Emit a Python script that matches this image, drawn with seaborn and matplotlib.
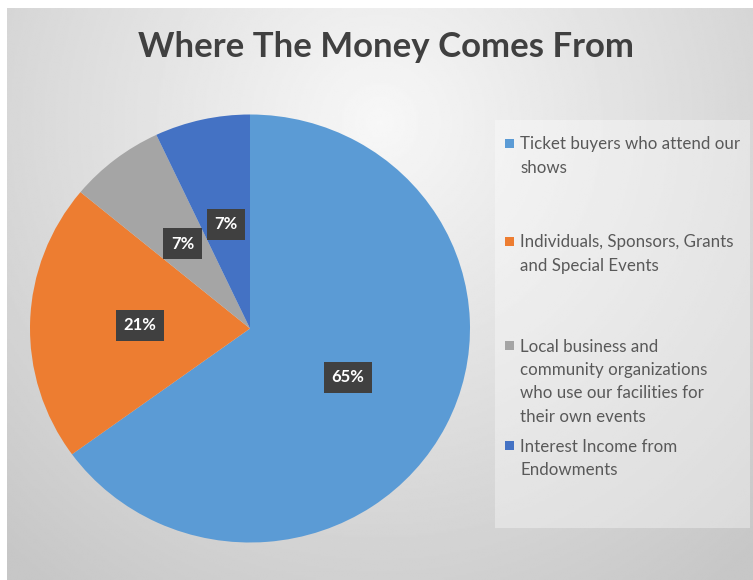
import matplotlib.pyplot as plt
import numpy as np
import seaborn as sns
from matplotlib.patches import Rectangle

# chart data
title = 'Where The Money Comes From'
categories = ['Ticket buyers who attend our\nshows',
              'Individuals, Sponsors, Grants\nand Special Events',
              'Local business and\ncommunity organizations\nwho use our facilities for\ntheir own events',
              'Interest Income from\nEndowments']
shares = [65, 21, 7, 7]
colors = ['#5B9BD5', '#ED7D31', '#A5A5A5', '#4472C4']

sns.set_style('white')
plt.rcParams['font.family'] = ['Lato', 'DejaVu Sans']

W, H = 753, 580
fig = plt.figure(figsize=(W / 100, H / 100), dpi=100)
fig.patch.set_facecolor('white')

# soft grey gradient background
bg = fig.add_axes([7 / W, 0, 1 - 7 / W, 1 - 8 / H])
yy, xx = np.mgrid[0:1:300j, 0:1:400j]
d = np.sqrt(((xx - 0.5) / 0.75) ** 2 + ((yy - 0.2) / 1.0) ** 2)
bg.imshow(0.97 - 0.19 * np.clip(d, 0, 1), cmap='gray', vmin=0, vmax=1,
          aspect='auto', interpolation='bilinear')
bg.axis('off')

# legend panel
fig.patches.append(Rectangle((495 / W, 52 / H), 255 / W, 408 / H,
                             transform=fig.transFigure, facecolor='white',
                             alpha=0.35, edgecolor='none', zorder=1))

# pie (slightly stretched, like the source image)
ax = fig.add_axes([30 / W, 37.5 / H, 440 / W, 428 / H])
wedges, texts, autotexts = ax.pie(
    shares, colors=colors, startangle=90, counterclock=False,
    autopct='%d%%', pctdistance=0.5,
    wedgeprops=dict(linewidth=0),
    textprops=dict(color='white', weight='bold', fontsize=12))
for t in autotexts:
    t.set_bbox(dict(boxstyle='square,pad=0.45', facecolor='#404040',
                    edgecolor='none'))
ax.set_aspect('auto')
ax.set_xlim(-1, 1)
ax.set_ylim(-1, 1)

fig.text(386 / W, 1 - 47 / H, title, ha='center', va='center',
         fontsize=25, weight='bold', color='#404040')

# legend entries
entry_y = [143, 241, 345, 445]
for lab, col, y in zip(categories, colors, entry_y):
    fig.patches.append(Rectangle((505 / W, 1 - (y + 4.5) / H), 9 / W, 9 / H,
                                 transform=fig.transFigure, facecolor=col,
                                 edgecolor='none', zorder=3))
    fig.text(520 / W, 1 - (y - 6.5) / H, lab, ha='left', va='top',
             fontsize=12.2, color='#595959', linespacing=1.57, zorder=3)

fig.savefig('out.png', dpi=100)
